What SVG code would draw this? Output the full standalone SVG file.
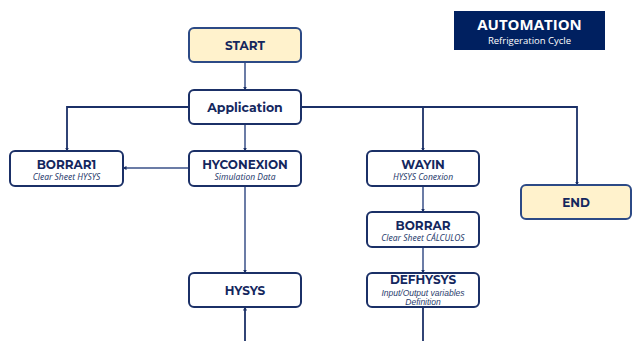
<svg xmlns="http://www.w3.org/2000/svg" width="632" height="341" viewBox="0 0 632 341">
<style>
.box{fill:#ffffff;stroke:#1b3067;stroke-width:2}
.term{fill:#fff2cc;stroke:#2c4a86;stroke-width:2}
.t{font-family:"Montserrat","Noto Sans","Liberation Sans",sans-serif;font-weight:bold;fill:#14275e;text-anchor:middle}
.s{font-family:"Noto Sans","Liberation Sans",sans-serif;font-style:italic;font-size:8.5px;fill:#2a3d6e;text-anchor:middle}
.s2{font-family:"Liberation Sans",sans-serif;font-style:italic;font-size:8.5px;fill:#2a3d6e;text-anchor:middle}
.c{fill:none;stroke:#1b3067;stroke-width:1.8}
.c2{fill:none;stroke:#3a5088;stroke-width:1.5}
</style>
<defs>
<marker id="ah" markerWidth="4" markerHeight="4" refX="3.5" refY="2" orient="auto" markerUnits="userSpaceOnUse">
<path d="M0,0 L4,2 L0,4 Z" fill="#1b3067"/>
</marker>
</defs>
<rect width="632" height="341" fill="#ffffff"/>
<g id="title">
<rect x="454" y="11" width="151" height="39" fill="#002060"/>
<text x="529.5" y="30" font-family="'Open Sans','Liberation Sans',sans-serif" font-weight="bold" font-size="15" fill="#ffffff" text-anchor="middle">AUTOMATION</text>
<text x="529.5" y="44" font-family="'Open Sans','Liberation Sans',sans-serif" font-size="9.5" fill="#ffffff" text-anchor="middle">Refrigeration Cycle</text>
</g>
<g id="connectors">
<path class="c2" d="M245,62 V90" marker-end="url(#ah)"/>
<path class="c" d="M189,107 H67 V151" marker-end="url(#ah)"/>
<path class="c" d="M301,107 H577 V185" marker-end="url(#ah)"/>
<path class="c" d="M423,107 V151" marker-end="url(#ah)"/>
<path class="c2" d="M245,124 V151" marker-end="url(#ah)"/>
<path class="c2" d="M189,168 H123" marker-end="url(#ah)"/>
<path class="c2" d="M245,186 V273" marker-end="url(#ah)"/>
<path class="c2" d="M423,186 V212" marker-end="url(#ah)"/>
<path class="c2" d="M423,247 V273" marker-end="url(#ah)"/>
<path class="c" d="M423,307 V341"/>
<path class="c" d="M245,341 V307" marker-end="url(#ah)"/>
</g>
<g id="start">
<rect class="term" x="189" y="28" width="112" height="34" rx="5"/>
<text class="t" x="245" y="49.5" font-size="12">START</text>
</g>
<g id="application">
<rect class="box" x="189" y="90" width="112" height="34" rx="5"/>
<text class="t" x="245" y="111.5" font-size="12.5">Application</text>
</g>
<g id="borrar1">
<rect class="box" x="10" y="151" width="113" height="35" rx="5"/>
<text class="t" x="66.5" y="169" font-size="12">BORRAR1</text>
<text class="s" x="66.5" y="179.5">Clear Sheet HYSYS</text>
</g>
<g id="hyconexion">
<rect class="box" x="189" y="151" width="112" height="35" rx="5"/>
<text class="t" x="245" y="169" font-size="12">HYCONEXION</text>
<text class="s" x="245" y="179.5">Simulation Data</text>
</g>
<g id="wayin">
<rect class="box" x="367" y="151" width="112" height="35" rx="5"/>
<text class="t" x="423" y="169" font-size="12">WAYIN</text>
<text class="s" x="423" y="179.5">HYSYS Conexion</text>
</g>
<g id="end">
<rect class="term" x="521" y="185" width="110" height="34" rx="5"/>
<text class="t" x="576" y="206.5" font-size="12">END</text>
</g>
<g id="borrar">
<rect class="box" x="367" y="212" width="112" height="35" rx="5"/>
<text class="t" x="423" y="230" font-size="12">BORRAR</text>
<text class="s" x="423" y="240.5">Clear  Sheet CÁLCULOS</text>
</g>
<g id="defhysys">
<rect class="box" x="367" y="273" width="112" height="34" rx="5"/>
<text class="t" x="423" y="284" font-size="12">DEFHYSYS</text>
<text class="s2" x="423" y="295.5">Input/Output variables</text>
<text class="s2" x="423" y="305">Definition</text>
</g>
<g id="hysys">
<rect class="box" x="189" y="273" width="112" height="34" rx="5"/>
<text class="t" x="245" y="294.5" font-size="12">HYSYS</text>
</g>
</svg>
